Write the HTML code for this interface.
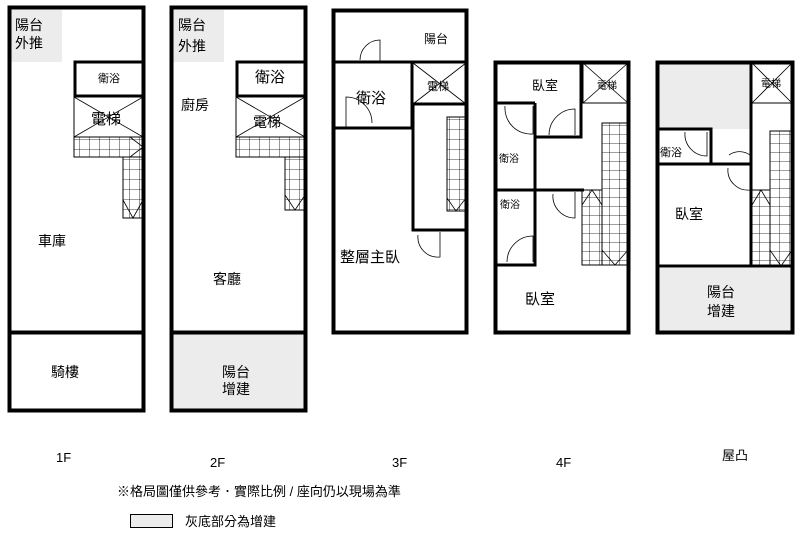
<!DOCTYPE html>
<html><head><meta charset="utf-8"><style>
body{margin:0;background:#fff}
svg{display:block}
text{font-family:"Liberation Sans","Noto Sans CJK TC",sans-serif;fill:#000}
</style></head><body>
<svg width="800" height="538" viewBox="0 0 800 538" xmlns="http://www.w3.org/2000/svg">
<defs>
<pattern id="g" width="10" height="10" patternUnits="userSpaceOnUse"><path d="M10 0V10M0 10H10" stroke="#000" stroke-width="0.8" fill="none"/></pattern>
<pattern id="g2" width="10" height="9" patternUnits="userSpaceOnUse"><path d="M10 0V9M0 9H10" stroke="#000" stroke-width="0.8" fill="none"/></pattern>
</defs>
<g fill="none" stroke="#000">
<!-- 1F -->
<rect x="10" y="10" width="52" height="52" fill="#ececec" stroke="none"/>
<rect x="9.5" y="7.5" width="134" height="403" stroke-width="4"/>
<line x1="9" y1="332.5" x2="144" y2="332.5" stroke-width="4"/>
<rect x="75" y="62" width="68" height="34" stroke-width="3"/>
<rect x="74" y="97" width="69" height="40" stroke-width="1"/>
<path d="M74 97L143 137M143 97L74 137" stroke-width="0.8"/>
<rect x="74" y="137" width="69" height="20" fill="url(#g)" stroke-width="1"/>
<rect x="123" y="157" width="20" height="61" fill="url(#g)" stroke-width="1"/>
<path d="M123 200L133 218L143 200M130 137L143 147L130 157" stroke-width="0.8"/>
<!-- 2F -->
<rect x="172" y="10" width="52" height="52" fill="#ececec" stroke="none"/>
<rect x="171" y="334" width="134" height="76" fill="#ececec" stroke="none"/>
<rect x="171.5" y="7.5" width="134" height="403" stroke-width="4"/>
<line x1="171" y1="332.5" x2="306" y2="332.5" stroke-width="4"/>
<rect x="237" y="62" width="68" height="34" stroke-width="3"/>
<rect x="236" y="97" width="69" height="40" stroke-width="1"/>
<path d="M236 97L305 137M305 97L236 137" stroke-width="0.8"/>
<rect x="236" y="137" width="69" height="20" fill="url(#g)" stroke-width="1"/>
<rect x="285" y="157" width="20" height="53" fill="url(#g)" stroke-width="1"/>
<path d="M285 195L295 210L305 195" stroke-width="0.8"/>
<!-- 3F -->
<rect x="333.5" y="10.5" width="133" height="322" stroke-width="4"/>
<line x1="333" y1="62" x2="467" y2="62" stroke-width="3"/>
<line x1="333" y1="128" x2="412" y2="128" stroke-width="3"/>
<line x1="412" y1="62" x2="412" y2="128" stroke-width="3"/>
<rect x="413" y="63" width="53" height="41" stroke-width="1"/>
<path d="M413 63L466 104M466 63L413 104" stroke-width="0.8"/>
<path d="M413 104H466M413 104V230H466" stroke-width="3"/>
<rect x="447" y="117" width="19" height="94" fill="url(#g)" stroke-width="1"/>
<path d="M447 198L456 211L466 198" stroke-width="0.8"/>
<path d="M380 62V40A20 20 0 0 0 360 60" stroke-width="0.8"/>
<path d="M346 127V97A26 26 0 0 1 372 123" stroke-width="0.8"/>
<path d="M440 232V257A20 20 0 0 1 418 235" stroke-width="0.8"/>
<!-- 4F -->
<rect x="495.5" y="62.5" width="133" height="270" stroke-width="4"/>
<path d="M581 62V137H535M535 103H495M535 103V265H495M495 190H584" stroke-width="3"/>
<rect x="583" y="63" width="45" height="40" stroke-width="1"/>
<path d="M583 63L628 103M628 63L583 103" stroke-width="0.8"/>
<rect x="602" y="123" width="26" height="142" fill="url(#g2)" stroke-width="1"/>
<rect x="582" y="190" width="20" height="75" fill="url(#g2)" stroke-width="1"/>
<path d="M602 250L615 265L628 250M582 205L592 190L602 205" stroke-width="0.8"/>
<path d="M533 106V134A26 26 0 0 1 505 106" stroke-width="0.8"/>
<path d="M575 135V109A26 26 0 0 0 549 135" stroke-width="0.8"/>
<path d="M533 262V236A26 26 0 0 0 507 262" stroke-width="0.8"/>
<path d="M575 192V218A22 22 0 0 1 553 194" stroke-width="0.8"/>
<!-- roof -->
<rect x="658" y="64" width="92" height="65" fill="#ececec" stroke="none"/>
<rect x="658" y="268" width="134" height="63" fill="#ececec" stroke="none"/>
<rect x="657.5" y="62.5" width="135" height="270" stroke-width="4"/>
<path d="M751 62V266M657 266H793M657 164H751M657 129H711V164" stroke-width="3"/>
<rect x="752" y="63" width="40" height="40" stroke-width="1"/>
<path d="M752 63L792 103M792 63L752 103" stroke-width="0.8"/>
<line x1="752" y1="103" x2="752" y2="266" stroke-width="1"/>
<rect x="770" y="131" width="22" height="135" fill="url(#g2)" stroke-width="1"/>
<rect x="752" y="190" width="18" height="76" fill="url(#g2)" stroke-width="1"/>
<path d="M770 250L781 266L792 250M752 205L761 190L770 205" stroke-width="0.8"/>
<path d="M707 132V156A22 22 0 0 1 685 132" stroke-width="0.8"/>
<path d="M750 134V155A18 18 0 0 0 729 155" stroke-width="0.8"/>
<path d="M750 168V190A20 20 0 0 1 728 168" stroke-width="0.8"/>
<!-- legend box -->
<rect x="130.5" y="514.5" width="42" height="13" fill="#ececec" stroke-width="1"/>
</g>
<g font-size="14">
<text x="15" y="30">陽台</text><text x="15" y="48">外推</text>
<text x="98" y="82" font-size="11">衛浴</text>
<text x="91" y="124" font-size="15">電梯</text>
<text x="38" y="246">車庫</text>
<text x="51" y="377">騎樓</text>
<text x="178" y="30">陽台</text><text x="178" y="51">外推</text>
<text x="255" y="82" font-size="15">衛浴</text>
<text x="181" y="110">廚房</text>
<text x="253" y="127">電梯</text>
<text x="213" y="284">客廳</text>
<text x="222" y="377">陽台</text><text x="222" y="394">增建</text>
<text x="424" y="43" font-size="12">陽台</text>
<text x="356" y="103" font-size="15">衛浴</text>
<text x="427" y="90" font-size="11">電梯</text>
<text x="340" y="262" font-size="15">整層主臥</text>
<text x="532" y="90" font-size="13">臥室</text>
<text x="597" y="89" font-size="10">電梯</text>
<text x="499" y="162" font-size="10">衛浴</text>
<text x="500" y="208" font-size="10">衛浴</text>
<text x="525" y="304" font-size="15">臥室</text>
<text x="761" y="87" font-size="10">電梯</text>
<text x="660" y="156" font-size="11">衛浴</text>
<text x="675" y="219">臥室</text>
<text x="707" y="297">陽台</text><text x="707" y="316">增建</text>
<text x="56" y="462" font-size="13">1F</text>
<text x="210" y="467" font-size="13">2F</text>
<text x="392" y="467" font-size="13">3F</text>
<text x="556" y="467" font-size="13">4F</text>
<text x="722" y="460" font-size="13">屋凸</text>
<text x="117" y="496" font-size="13">※格局圖僅供參考．實際比例 / 座向仍以現場為準</text>
<text x="185" y="526" font-size="13">灰底部分為增建</text>
</g>
</svg>
</body></html>
